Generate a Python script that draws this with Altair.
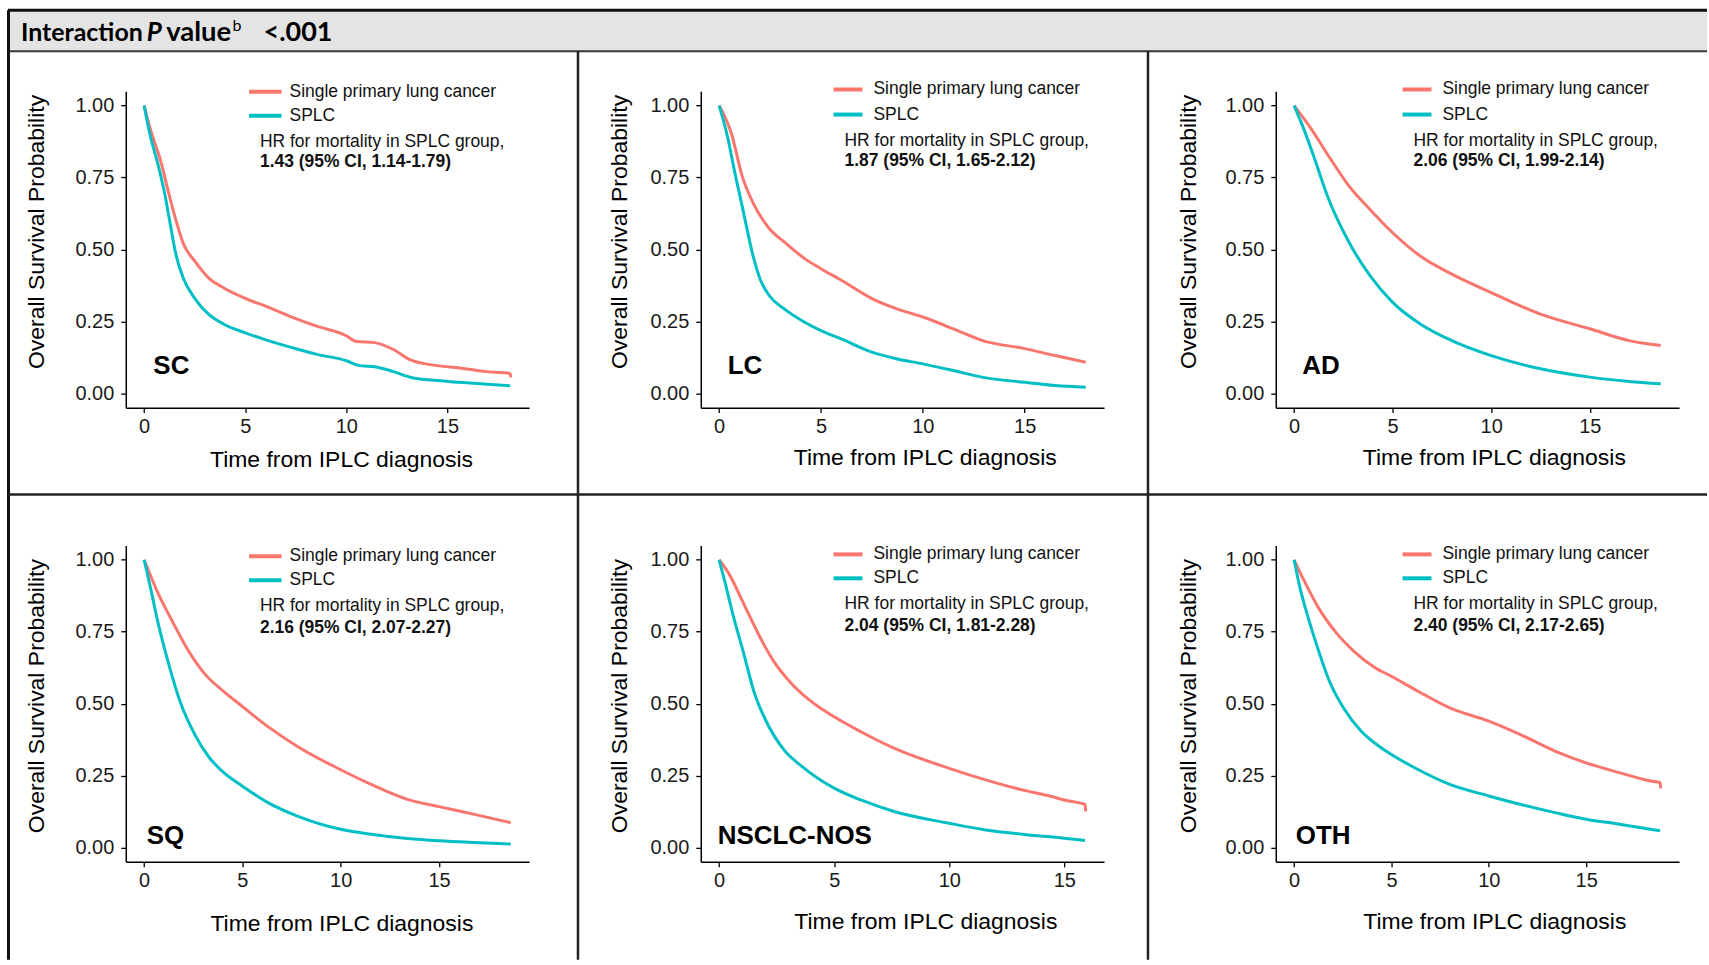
import altair as alt
import pandas as pd

# ---------------- data ----------------
GROUPS = ["Single primary lung cancer", "SPLC"]
COLORS = ["#F8766D", "#00BFC4"]

PANEL_LABELS = ["SC", "LC", "AD", "SQ", "NSCLC-NOS", "OTH"]
HR_VALUES = [
    "1.43 (95% CI, 1.14-1.79)",
    "1.87 (95% CI, 1.65-2.12)",
    "2.06 (95% CI, 1.99-2.14)",
    "2.16 (95% CI, 2.07-2.27)",
    "2.04 (95% CI, 1.81-2.28)",
    "2.40 (95% CI, 2.17-2.65)",
]
HR_LINE = "HR for mortality in SPLC group,"
X_TICKS = [0, 5, 10, 15]
Y_TICKS = [0.0, 0.25, 0.5, 0.75, 1.0]

# SC
SC_T_SINGLE = [0, 0.3, 0.85, 1.2, 1.58, 1.94, 2.5, 3.2, 3.94, 5, 6.1, 7.6, 8.5, 10, 10.5, 11.4, 12.3, 13.2, 14.5, 15.6, 16.8, 18.1, 18.13]
SC_S_SINGLE = [1.0, 0.92, 0.80, 0.70, 0.60, 0.52, 0.46, 0.40, 0.366, 0.33, 0.30, 0.257, 0.234, 0.20, 0.18, 0.176, 0.153, 0.115, 0.096, 0.088, 0.076, 0.069, 0.055]
SC_T_SPLC = [0, 0.3, 0.67, 1.03, 1.3, 1.58, 1.94, 2.5, 3.2, 3.94, 5, 6.1, 7.6, 8.5, 10, 10.65, 11.4, 12.3, 13.2, 14.5, 15.6, 16.8, 18.1]
SC_S_SPLC = [1.0, 0.896, 0.80, 0.69, 0.585, 0.48, 0.40, 0.33, 0.274, 0.24, 0.21, 0.184, 0.153, 0.136, 0.113, 0.096, 0.092, 0.076, 0.055, 0.044, 0.038, 0.032, 0.026]

# LC
LC_T_SINGLE = [0, 0.6, 1.14, 1.68, 2.4, 3.3, 4.2, 5, 6.0, 7.5, 8.7, 10, 11.5, 12.9, 15, 16.5, 18]
LC_S_SINGLE = [1.0, 0.904, 0.753, 0.66, 0.578, 0.52, 0.468, 0.433, 0.393, 0.329, 0.294, 0.265, 0.224, 0.184, 0.155, 0.131, 0.108]
LC_T_SPLC = [0, 0.42, 0.78, 1.14, 1.68, 2.05, 2.4, 3.3, 4.2, 5, 6.0, 7.5, 8.7, 10, 11.5, 12.9, 15, 16.5, 18]
LC_S_SPLC = [1.0, 0.89, 0.764, 0.648, 0.474, 0.39, 0.346, 0.288, 0.247, 0.218, 0.189, 0.143, 0.12, 0.102, 0.079, 0.056, 0.038, 0.027, 0.021]

# AD
AD_T_SINGLE = [0, 0.8, 1.7, 2.8, 3.86, 5, 6.4, 8, 10, 12.5, 15, 17, 18.6]
AD_S_SINGLE = [1.0, 0.926, 0.83, 0.719, 0.638, 0.558, 0.477, 0.414, 0.35, 0.275, 0.224, 0.183, 0.166]
AD_T_SPLC = [0, 0.45, 1.0, 1.7, 2.8, 3.86, 5, 6.4, 8, 10, 12.5, 15, 17, 18.6]
AD_S_SPLC = [1.0, 0.926, 0.823, 0.684, 0.523, 0.408, 0.316, 0.241, 0.183, 0.131, 0.085, 0.056, 0.041, 0.033]

# SQ
SQ_T_SINGLE = [0, 0.7, 1.46, 2.2, 3.14, 4.07, 5, 6.3, 7.8, 10, 11.55, 13.4, 15, 16.8, 18.65]
SQ_S_SINGLE = [1.0, 0.885, 0.783, 0.69, 0.599, 0.541, 0.49, 0.42, 0.351, 0.27, 0.219, 0.167, 0.142, 0.115, 0.086]
SQ_T_SPLC = [0, 0.34, 0.7, 1.27, 1.83, 2.58, 3.33, 4.07, 5, 6.3, 7.8, 10, 11.55, 13.4, 15, 16.8, 18.65]
SQ_S_SPLC = [1.0, 0.898, 0.783, 0.633, 0.507, 0.392, 0.311, 0.259, 0.213, 0.156, 0.109, 0.063, 0.046, 0.031, 0.023, 0.017, 0.012]

# NSCLC-NOS
NOS_T_SINGLE = [0, 0.43, 1.07, 1.7, 2.34, 3.14, 3.93, 5, 6.16, 7.6, 10, 11.58, 13.17, 14.44, 15, 15.7, 15.9, 15.93]
NOS_S_SINGLE = [1.0, 0.951, 0.847, 0.743, 0.651, 0.57, 0.512, 0.454, 0.402, 0.345, 0.275, 0.235, 0.2, 0.177, 0.165, 0.154, 0.15, 0.125]
NOS_T_SPLC = [0, 0.27, 0.59, 1.07, 1.54, 2.02, 2.82, 3.61, 5, 6.16, 7.6, 10, 11.58, 13.17, 15, 15.9]
NOS_S_SPLC = [1.0, 0.917, 0.813, 0.674, 0.535, 0.443, 0.339, 0.281, 0.206, 0.165, 0.125, 0.084, 0.061, 0.046, 0.032, 0.024]

# OTH
OTH_T_SINGLE = [0, 0.54, 1.27, 2.18, 3.09, 4.18, 5, 6.36, 8.0, 10, 11.6, 13.4, 15, 16.7, 18.3, 18.8, 18.83]
OTH_S_SINGLE = [1.0, 0.924, 0.831, 0.745, 0.681, 0.624, 0.595, 0.543, 0.485, 0.439, 0.393, 0.335, 0.294, 0.26, 0.231, 0.225, 0.205]
OTH_T_SPLC = [0, 0.27, 0.73, 1.27, 1.82, 2.54, 3.45, 4.36, 5, 6.36, 8.0, 10, 11.6, 13.4, 15, 16.7, 18.8]
OTH_S_SPLC = [1.0, 0.912, 0.797, 0.681, 0.577, 0.485, 0.404, 0.352, 0.323, 0.271, 0.219, 0.179, 0.15, 0.121, 0.098, 0.081, 0.058]

SERIES = [
    (SC_T_SINGLE, SC_S_SINGLE, SC_T_SPLC, SC_S_SPLC),
    (LC_T_SINGLE, LC_S_SINGLE, LC_T_SPLC, LC_S_SPLC),
    (AD_T_SINGLE, AD_S_SINGLE, AD_T_SPLC, AD_S_SPLC),
    (SQ_T_SINGLE, SQ_S_SINGLE, SQ_T_SPLC, SQ_S_SPLC),
    (NOS_T_SINGLE, NOS_S_SINGLE, NOS_T_SPLC, NOS_S_SPLC),
    (OTH_T_SINGLE, OTH_S_SINGLE, OTH_T_SPLC, OTH_S_SPLC),
]

# ---------------- layout (pixels, relative to each plot area) ----------------
W, H = 404, 317
FONT = "Liberation Sans"
LAYOUT = [
    dict(lx1=123.5, lx2=156, ltx=164, ry=0.5, by=24.5, hx=134.4, hy1=50.6, hy2=71.3, px=27.6, py=275, xtx=215.6, xty=52, ytx=-89, yty=140.5),
    dict(lx1=133, lx2=162, ltx=173, ry=-1.7, by=23.4, hx=144, hy1=49.5, hy2=70, px=27, py=275, xtx=224.4, xty=49.7, ytx=-81, yty=140.5),
    dict(lx1=127, lx2=156, ltx=167, ry=-1.7, by=23.4, hx=138, hy1=49.5, hy2=70, px=26.6, py=275, xtx=218.5, xty=49.7, ytx=-87, yty=140.5),
    dict(lx1=123.5, lx2=156, ltx=164, ry=11, by=35, hx=134.4, hy1=61, hy2=83, px=21, py=291, xtx=216, xty=62, ytx=-89, yty=150.5),
    dict(lx1=133, lx2=162, ltx=173, ry=9, by=33, hx=144, hy1=59, hy2=81, px=17, py=291, xtx=225, xty=60, ytx=-81, yty=150.5),
    dict(lx1=127, lx2=156, ltx=167, ry=9, by=33, hx=138, hy1=59, hy2=81, px=20, py=291, xtx=219, xty=60, ytx=-87, yty=150.5),
]

ONE = pd.DataFrame({"k": [0]})


def txt(s, x, y, size, weight="normal", style="normal", font=FONT, baseline="middle", color="#111111"):
    return alt.Chart(pd.DataFrame({"v": [s]})).mark_text(
        align="left", baseline=baseline, fontSize=size, fontWeight=weight,
        fontStyle=style, font=font, color=color
    ).encode(x=alt.value(x), y=alt.value(y), text="v:N")


def rule(x1, x2, y1, y2, color, width):
    return alt.Chart(ONE).mark_rule(color=color, strokeWidth=width).encode(
        x=alt.value(x1), x2=alt.value(x2), y=alt.value(y1), y2=alt.value(y2))


def panel(i):
    t1, s1, t2, s2 = SERIES[i]
    L = LAYOUT[i]
    rows = []
    for k, (t, s) in enumerate(zip(t1, s1)):
        rows.append({"time": t, "surv": s, "group": GROUPS[0], "idx": k})
    for k, (t, s) in enumerate(zip(t2, s2)):
        rows.append({"time": t, "surv": s, "group": GROUPS[1], "idx": k})
    df = pd.DataFrame(rows)
    xmax = max(max(t1), max(t2))

    x_enc = alt.X("time:Q",
                  scale=alt.Scale(domain=[-0.05 * xmax, 1.05 * xmax], nice=False, zero=False),
                  axis=alt.Axis(values=X_TICKS, title="Time from IPLC diagnosis",
                                titleX=L["xtx"], titleY=L["xty"], titleAlign="center",
                                titleBaseline="middle", labelPadding=4,
                                labelFlush=False, labelOverlap=False))
    y_enc = alt.Y("surv:Q",
                  scale=alt.Scale(domain=[-0.05, 1.05], nice=False, zero=False),
                  axis=alt.Axis(values=Y_TICKS, format=".2f", title="Overall Survival Probability",
                                titleX=L["ytx"], titleY=L["yty"], titleAlign="center",
                                titleBaseline="middle", titleAngle=270, labelPadding=7,
                                labelFlush=False, labelOverlap=False))
    curves = alt.Chart(df).mark_line(strokeWidth=3, strokeJoin="round", interpolate="monotone").encode(
        x=x_enc, y=y_enc,
        color=alt.Color("group:N", scale=alt.Scale(domain=GROUPS, range=COLORS), legend=None),
        order="idx:Q")

    layers = []
    if i == 0:
        # figure frame and header band (relative to the first plot area)
        layers += [
            alt.Chart(ONE).mark_rect(color="#e4e4e4").encode(
                x=alt.value(-118), x2=alt.value(1584), y=alt.value(-81), y2=alt.value(-40)),
            rule(-118, 1584, -81, -81, "#111111", 3),
            rule(-118, 1584, -40, -40, "#3a3a3a", 2),
            rule(-117.5, -117.5, -81, 870, "#111111", 3),
            rule(-118, 1584, 404, 404, "#222222", 2.5),
            rule(453, 453, -40, 870, "#222222", 2.5),
            rule(1024, 1024, -40, 870, "#222222", 2.5),
            txt("Interaction", -105, -50.7, 25, weight="bold", font="Lato", baseline="alphabetic", color="#000000"),
            txt("P", 21, -50.7, 26, weight="bold", style="italic", font="Lato", baseline="alphabetic", color="#000000"),
            txt("value", 40.5, -50.7, 27.5, weight="bold", font="Lato", baseline="alphabetic", color="#000000"),
            txt("b", 107, -60, 16, weight="normal", font="Lato", baseline="alphabetic", color="#000000"),
            txt("<.001", 138, -50.7, 27, weight="bold", font="Lato", baseline="alphabetic", color="#000000"),
        ]
    layers += [
        curves,
        rule(L["lx1"], L["lx2"], L["ry"], L["ry"], COLORS[0], 4),
        rule(L["lx1"], L["lx2"], L["by"], L["by"], COLORS[1], 4),
        txt(GROUPS[0], L["ltx"], L["ry"], 17.5),
        txt(GROUPS[1], L["ltx"], L["by"], 17.5),
        txt(HR_LINE, L["hx"], L["hy1"], 17.5),
        txt(HR_VALUES[i], L["hx"], L["hy2"], 17.5, weight="bold"),
        txt(PANEL_LABELS[i], L["px"], L["py"], 26, weight="bold", color="#000000"),
    ]
    return alt.layer(*layers).properties(width=W, height=H)


chart = alt.concat(
    *[panel(i) for i in range(6)],
    columns=3,
    spacing={"row": 138, "column": 172},
    bounds="flush",
).properties(
    padding={"left": 6, "top": 7.5, "right": 0, "bottom": 0},
    background="white",
).configure_view(
    strokeWidth=0
).configure_axis(
    grid=False,
    domainColor="#000000",
    domainWidth=1.5,
    tickColor="#000000",
    tickWidth=1.3,
    tickSize=5,
    labelFont=FONT,
    labelFontSize=20,
    labelColor="#1a1a1a",
    titleFont=FONT,
    titleFontSize=23,
    titleFontWeight="normal",
    titleColor="#000000",
)

chart.save("out.html", embed_options={"renderer": "svg", "actions": False})
